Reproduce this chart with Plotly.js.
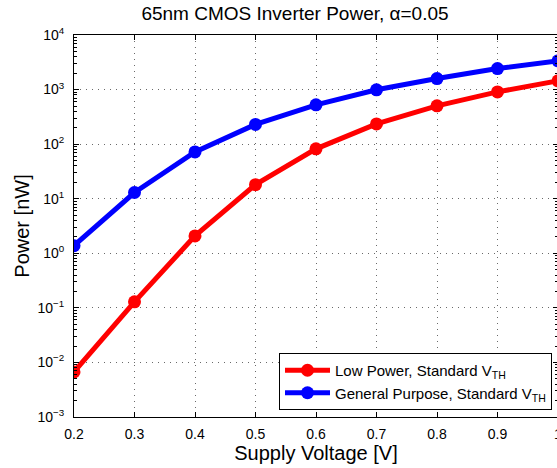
<!DOCTYPE html>
<html>
<head>
<meta charset="utf-8">
<script src="https://cdn.plot.ly/plotly-3.0.1.min.js"></script>
<style>
  html, body { margin: 0; padding: 0; overflow: hidden; background: #fff; }
  #chart { width: 600px; height: 468px; }
</style>
</head>
<body>
<div id="chart"></div>
<script>
// Supply voltage sweep [V]
const voltage = [0.2, 0.3, 0.4, 0.5, 0.6, 0.7, 0.8, 0.9, 1.0];

// Power [nW] for each device flavour
const lowPower       = [0.0067, 0.129, 2.08, 18.1, 82, 235, 503, 907, 1443];
const generalPurpose = [1.38, 13.0, 72, 230, 525, 990, 1590, 2425, 3356];

// Axis ticks
const xTickVals = [0.2, 0.3, 0.4, 0.5, 0.6, 0.7, 0.8, 0.9, 1.0];
const xTickText = ['0.2', '0.3', '0.4', '0.5', '0.6', '0.7', '0.8', '0.9', '1'];
const yTickVals = [1e-3, 1e-2, 1e-1, 1e0, 1e1, 1e2, 1e3, 1e4];
const yTickText = ['10<sup>\u22123</sup>', '10<sup>\u22122</sup>', '10<sup>\u22121</sup>',
                   '10<sup>0</sup>', '10<sup>1</sup>', '10<sup>2</sup>',
                   '10<sup>3</sup>', '10<sup>4</sup>'];

const FONT = 'Liberation Sans, Arial, Helvetica, sans-serif';

const traces = [
  {
    x: voltage, y: lowPower, type: 'scatter', mode: 'lines+markers',
    name: 'Low Power, Standard V<sub>TH</sub>',
    line: { color: '#ff0000', width: 5 },
    marker: { color: '#ff0000', size: 13, symbol: 'circle' },
    cliponaxis: true
  },
  {
    x: voltage, y: generalPurpose, type: 'scatter', mode: 'lines+markers',
    name: 'General Purpose, Standard V<sub>TH</sub>',
    line: { color: '#0000ff', width: 5 },
    marker: { color: '#0000ff', size: 13, symbol: 'circle' },
    cliponaxis: true
  }
];

const gridStyle = { gridcolor: '#6a6a6a', gridwidth: 1, griddash: '1px,5px' };

const layout = {
  width: 600, height: 468,
  margin: { l: 74, r: 42, t: 35, b: 51 },
  paper_bgcolor: '#ffffff', plot_bgcolor: '#ffffff',
  font: { family: FONT, color: '#000', size: 14 },
  showlegend: true,
  title: {
    text: '65nm CMOS Inverter Power, \u03b1=0.05',
    font: { family: FONT, size: 19, color: '#000' },
    xref: 'paper', x: (295 - 74) / 484, xanchor: 'center',
    yref: 'container', y: 1 - 13 / 468, yanchor: 'middle'
  },
  xaxis: Object.assign({
    range: [0.2, 1.0], autorange: false,
    tickvals: xTickVals, ticktext: xTickText,
    ticks: 'inside', ticklen: 5, tickcolor: '#000', tickwidth: 1,
    showline: true, linecolor: '#000', linewidth: 1, mirror: 'ticks',
    showgrid: true, zeroline: false,
    tickfont: { family: FONT, size: 14, color: '#000' },
    ticklabelstandoff: 4,
    title: { text: 'Supply Voltage [V]', font: { family: FONT, size: 20, color: '#000' }, standoff: 5 }
  }, gridStyle),
  yaxis: Object.assign({
    type: 'log', range: [-3, 4], autorange: false,
    tickvals: yTickVals, ticktext: yTickText,
    ticks: 'inside', ticklen: 5, tickcolor: '#000', tickwidth: 1,
    showline: true, linecolor: '#000', linewidth: 1, mirror: 'ticks',
    showgrid: true, zeroline: false,
    minor: { ticks: 'inside', ticklen: 3, tickcolor: '#000', dtick: 'D1', showgrid: false },
    tickfont: { family: FONT, size: 14, color: '#000' },
    ticklabelstandoff: 6,
    title: { text: 'Power [nW]', font: { family: FONT, size: 20, color: '#000' }, standoff: 2 }
  }, gridStyle),
  legend: {
    x: (279 - 74) / 484, xanchor: 'left',
    y: (417 - 410) / 382, yanchor: 'bottom',
    bgcolor: '#ffffff', bordercolor: '#000', borderwidth: 1,
    font: { family: FONT, size: 15, color: '#000' },
    itemwidth: 45, tracegroupgap: 0
  }
};

Plotly.newPlot('chart', traces, layout, { displayModeBar: false, staticPlot: true });
</script>
</body>
</html>
